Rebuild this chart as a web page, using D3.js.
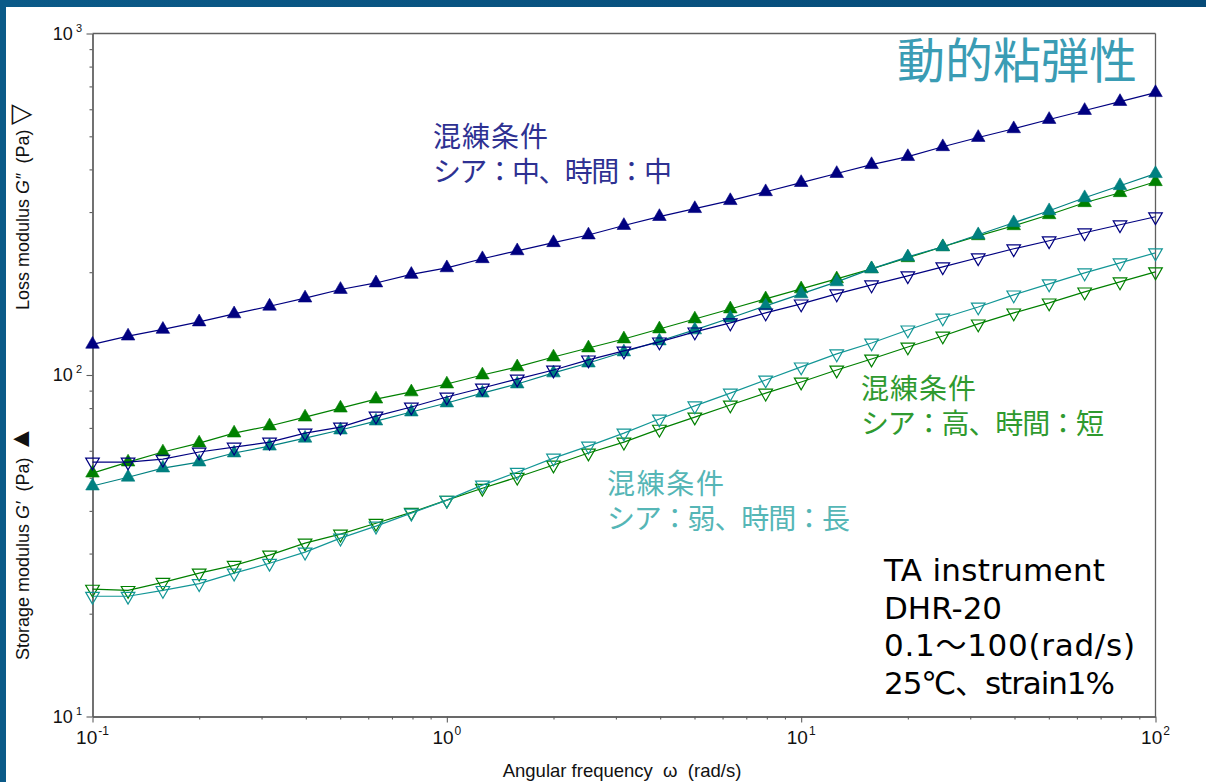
<!DOCTYPE html>
<html>
<head>
<meta charset="utf-8">
<script src="https://cdn.jsdelivr.net/npm/d3@7"></script>
<style>
  html, body { margin: 0; padding: 0; background: #fff; }
  svg { display: block; }
</style>
</head>
<body>
<svg id="chart" width="1206" height="782"></svg>
<script>
// Angular frequency sweep, 10 points per decade (rad/s)
const freq = [0.1, 0.126, 0.158, 0.2, 0.251, 0.316, 0.398, 0.501, 0.631, 0.794,
              1, 1.26, 1.58, 2, 2.51, 3.16, 3.98, 5.01, 6.31, 7.94,
              10, 12.6, 15.8, 20, 25.1, 31.6, 39.8, 50.1, 63.1, 79.4, 100];

// Shear: medium, time: medium (navy)
const storageMid = [123, 130, 136, 143, 151, 159, 168, 178, 186, 197,
                    206, 219, 231, 244, 257, 274, 291, 307, 324, 344,
                    366, 389, 413, 436, 466, 496, 526, 560, 595, 632, 671];
const lossMid = [55.6, 55.6, 56.7, 59.5, 61.5, 63.6, 67.6, 70.4, 75.8, 80.6,
                 86.2, 91.6, 97.3, 103.4, 110.7, 117.6, 125.0, 133.7, 142.1, 152.0,
                 161.5, 172.8, 183.6, 195.2, 207.4, 220.4, 234.2, 247.2, 260.9, 275.4, 290.6];

// Shear: high, time: short (green)
const storageHigh = [51.6, 55.6, 59.5, 63.2, 67.6, 70.9, 75.3, 80.0, 85.0, 89.2,
                     94.1, 100, 105.6, 112.9, 120.0, 127.5, 136.4, 145.9, 156.1, 167.1,
                     178.7, 191.2, 204.6, 220.4, 237.4, 255.6, 273.5, 294.6, 319.5, 341.8, 368.1];
const lossHigh = [23.6, 23.4, 24.7, 26.3, 27.7, 29.7, 32.2, 34.2, 36.8, 39.6,
                  43.0, 46.6, 50.2, 54.5, 59.1, 63.6, 69.4, 75.3, 81.7, 88.5,
                  95.4, 103.4, 111.4, 120.8, 130.1, 141.1, 152.0, 162.6, 175.1, 187.4, 200.5];

// Shear: weak, time: long (teal)
const storageWeak = [47.3, 50.2, 53.4, 55.6, 59.1, 61.9, 65.3, 69.0, 73.3, 77.9,
                     82.8, 88.5, 94.1, 101.4, 108.4, 116.8, 125.8, 135.5, 146.9, 159.4,
                     172.8, 187.4, 204.6, 221.8, 237.4, 257.4, 279.1, 302.6, 330.4, 358.3, 388.6];
const lossWeak = [22.5, 22.5, 23.4, 24.5, 26.3, 28.1, 30.3, 33.3, 36.1, 39.4,
                  43.0, 47.6, 51.9, 57.1, 61.9, 67.6, 74.3, 81.2, 88.5, 96.7,
                  105.6, 115.3, 124.1, 135.5, 146.9, 158.2, 171.6, 184.9, 199.1, 213.0, 227.9];

// Axis ticks
const xMajor = [0.1, 1, 10, 100];
const xMajorExp = ["-1", "0", "1", "2"];
const yMajor = [10, 100, 1000];
const yMajorExp = ["1", "2", "3"];

const W = 1206, H = 782;
const svg = d3.select("#chart");

// Slide frame: dark blue band on the top and left edges
const defs = svg.append("defs");
const grad = defs.append("linearGradient").attr("id", "frame").attr("x1", 0).attr("x2", 1).attr("y1", 0).attr("y2", 0);
grad.append("stop").attr("offset", 0).attr("stop-color", "#0b5a88");
grad.append("stop").attr("offset", 1).attr("stop-color", "#064a77");
svg.append("rect").attr("width", W).attr("height", H).attr("fill", "url(#frame)");
svg.append("rect").attr("x", 6).attr("y", 7).attr("width", W - 6).attr("height", H - 7).attr("fill", "#fff");

const m = { l: 92.5, r: 1155.5, t: 33.5, b: 716.5 };
const x = d3.scaleLog().domain([0.1, 100]).range([m.l, m.r]);
const y = d3.scaleLog().domain([10, 1000]).range([m.b, m.t]);

const axisColor = "#5f5f5f";
const axisFont = "'Liberation Sans', Arial, sans-serif";

// Minor ticks (2..9 of each decade)
const minorOf = (lo, hi) => {
  const out = [];
  for (let d = lo; d < hi; d *= 10) for (let k = 2; k <= 9; k++) out.push(d * k);
  return out;
};

function styleAxis(g) {
  g.selectAll("path").attr("stroke", axisColor).attr("stroke-width", 1.3);
  g.selectAll("line").attr("stroke", axisColor).attr("stroke-width", 1.1);
  g.selectAll("text").remove();
}

svg.append("g").attr("transform", `translate(${m.l},0)`)
  .call(d3.axisLeft(y).tickValues(minorOf(10, 1000)).tickSize(3).tickSizeOuter(0).tickFormat(""))
  .call(styleAxis);
svg.append("g").attr("transform", `translate(${m.l},0)`)
  .call(d3.axisLeft(y).tickValues(yMajor).tickSize(6).tickSizeOuter(0).tickFormat(""))
  .call(styleAxis);
svg.append("g").attr("transform", `translate(0,${m.b})`)
  .call(d3.axisBottom(x).tickValues(minorOf(0.1, 100)).tickSize(3).tickSizeOuter(0).tickFormat(""))
  .call(styleAxis);
svg.append("g").attr("transform", `translate(0,${m.b})`)
  .call(d3.axisBottom(x).tickValues(xMajor).tickSize(6).tickSizeOuter(0).tickFormat(""))
  .call(styleAxis);

// Box: top and right edges
svg.append("line").attr("x1", m.l).attr("x2", m.r).attr("y1", m.t).attr("y2", m.t)
  .attr("stroke", axisColor).attr("stroke-width", 1.3);
svg.append("line").attr("x1", m.r).attr("x2", m.r).attr("y1", m.t).attr("y2", m.b)
  .attr("stroke", axisColor).attr("stroke-width", 1.3);

// Power-of-ten tick labels
yMajor.forEach((v, i) => {
  const t = svg.append("text").attr("x", 82).attr("y", y(v) + 6)
    .attr("text-anchor", "end").attr("font-family", axisFont).attr("font-size", 18).attr("fill", "#111");
  t.append("tspan").text("10");
  t.append("tspan").attr("dx", 3).attr("dy", -8).attr("font-size", 11).text(yMajorExp[i]);
});
xMajor.forEach((v, i) => {
  const t = svg.append("text").attr("x", x(v)).attr("y", 744)
    .attr("text-anchor", "middle").attr("font-family", axisFont).attr("font-size", 19).attr("fill", "#111");
  t.append("tspan").text("10");
  t.append("tspan").attr("dx", 1).attr("dy", -9).attr("font-size", 12).text(xMajorExp[i]);
});

// Axis titles
svg.append("text").attr("x", (m.l + m.r) / 2 - 2).attr("y", 777)
  .attr("text-anchor", "middle").attr("font-family", axisFont).attr("font-size", 18.5).attr("fill", "#111")
  .text("Angular frequency\u00a0\u00a0ω\u00a0\u00a0(rad/s)");

function yTitle(cy, parts) {
  const t = svg.append("text").attr("transform", `translate(29,${cy}) rotate(-90)`)
    .attr("font-family", axisFont).attr("font-size", 18).attr("fill", "#111");
  parts.forEach(p => {
    const s = t.append("tspan").text(p.t);
    if (p.i) s.attr("font-style", "italic");
    if (p.s) s.attr("font-size", p.s);
  });
}
yTitle(660, [{ t: "Storage modulus\u00a0" }, { t: "G′", i: true }, { t: "\u00a0\u00a0(Pa)\u00a0" }, { t: "▲", s: 27 }]);
yTitle(310, [{ t: "Loss modulus\u00a0" }, { t: "G″", i: true }, { t: "\u00a0\u00a0(Pa)\u00a0" }, { t: "▽", s: 27 }]);

// Data series
const series = [
  { v: storageHigh, c: "#008000", filled: true },
  { v: storageWeak, c: "#008080", filled: true },
  { v: storageMid,  c: "#000080", filled: true },
  { v: lossHigh,    c: "#008000", filled: false },
  { v: lossWeak,    c: "#139696", filled: false },
  { v: lossMid,     c: "#000080", filled: false }
];

const line = d3.line().x((d, i) => x(freq[i])).y(d => y(d));
const tri = d3.symbol().type(d3.symbolTriangle).size(80);
const plot = svg.append("g");

series.forEach(s => {
  plot.append("path").attr("d", line(s.v)).attr("fill", "none")
    .attr("stroke", s.c).attr("stroke-width", 1.2);
  plot.append("g").selectAll("path").data(s.v).join("path")
    .attr("d", tri)
    .attr("transform", (d, i) => `translate(${x(freq[i])},${y(d)})` + (s.filled ? "" : " rotate(180)"))
    .attr("fill", s.filled ? s.c : "none")
    .attr("stroke", s.c)
    .attr("stroke-width", s.filled ? 0.6 : 1.2);
});

// Annotations
const jp = "'Noto Sans CJK JP', 'Noto Sans', sans-serif";
svg.append("text").attr("x", 897).attr("y", 78).attr("font-family", jp).attr("font-size", 48)
  .attr("fill", "#3a9cb4").text("動的粘弾性");

function note(x0, y0, color, lines, widths) {
  const t = svg.append("text").attr("font-family", jp).attr("font-size", 28).attr("fill", color);
  lines.forEach((l, i) => {
    t.append("tspan").attr("x", x0).attr("y", y0 + i * 35)
      .attr("textLength", widths[i]).attr("lengthAdjust", "spacing").text(l);
  });
}
note(433, 147, "#2e3192", ["混練条件", "シア：中、時間：中"], [115, 239]);
note(861, 399, "#2f9a2f", ["混練条件", "シア：高、時間：短"], [115, 243]);
note(607, 494, "#55b6b6", ["混練条件", "シア：弱、時間：長"], [117, 243]);

// Measurement conditions
const info = ["TA instrument", "DHR-20", "0.1～100(rad/s)", "25℃、strain1%"];
const infoWidths = [221, null, 251, 231];
const infoText = svg.append("text")
  .attr("font-family", "'DejaVu Sans', 'Noto Sans CJK JP', sans-serif")
  .attr("font-size", 31).attr("fill", "#000");
info.forEach((l, i) => {
  const s = infoText.append("tspan").attr("x", 884).attr("y", 581 + i * 37.5).text(l);
  if (infoWidths[i]) s.attr("textLength", infoWidths[i]).attr("lengthAdjust", "spacing");
});
</script>
</body>
</html>
